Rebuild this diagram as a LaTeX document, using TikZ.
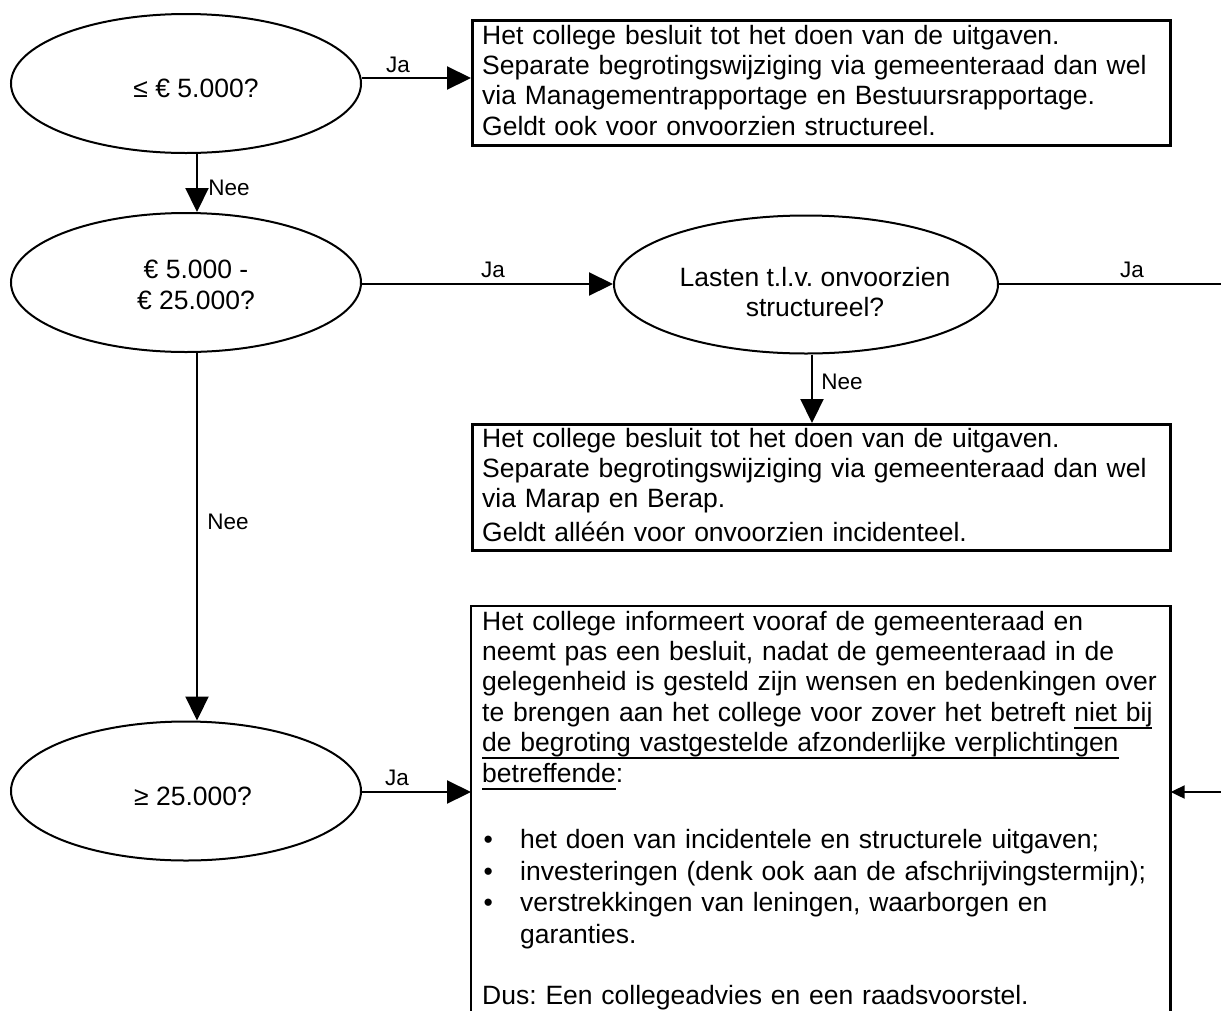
\documentclass[tikz,border=0pt]{standalone}
\usepackage{fontspec}
\setmainfont{Liberation Sans}
\usetikzlibrary{arrows.meta,shapes.geometric}
\frenchspacing
\newsavebox{\myulbox}
\newcommand{\myul}[1]{\leavevmode\sbox{\myulbox}{#1}\rlap{\rule[-7.5pt]{\wd\myulbox}{1.8pt}}\usebox{\myulbox}}
\newcommand{\mybullet}{\leavevmode\makebox[38pt][l]{\hspace{1.5pt}•}}
\begin{document}
\begin{tikzpicture}[x=1pt,y=-1pt,
  dec/.style={draw, ellipse, line width=2pt, inner sep=0pt, minimum width=350pt, minimum height=139pt},
  txt/.style={font=\fontsize{26.5pt}{30.4pt}\selectfont\frenchspacing, inner sep=0pt},
  lbl/.style={font=\fontsize{22.5pt}{26pt}\selectfont, inner sep=0pt},
  boxs/.style={draw, line width=2.7pt, inner sep=0pt, anchor=north west},
  para/.style={txt, anchor=north west, text width=700pt, align=left},
  arr/.style={line width=2.2pt, -{Triangle[length=24pt,width=23pt]}},
  arrs/.style={line width=2.2pt, -{Triangle[length=14pt,width=13pt]}},
  conn/.style={line width=2.2pt}
]
\useasboundingbox (0,0) rectangle (1221,1010);
\fill[white] (0,0) rectangle (1221,1010);

% decisions
\node[dec] (e1) at (186,83.5) {};
\node[dec] (e2) at (186,282.5) {};
\node[dec, minimum width=384pt, minimum height=138pt] (e3) at (806,284.5) {};
\node[dec] (e4) at (186,791) {};

\node[txt] (e1t) at (196,88) {≤ € 5.000?};
\node[txt, align=center] (e2t) at (196,285) {€ 5.000 -\\€ 25.000?};
\node[txt, align=center] (e3t) at (815,292) {Lasten t.l.v. onvoorzien\\structureel?};
\node[txt] (e4t) at (193,796) {≥ 25.000?};

% boxes
\node[boxs, minimum width=698pt, minimum height=125pt] (box1) at (471,19) {};
\node[boxs, minimum width=698pt, minimum height=126pt] (box2) at (471,423) {};
\node[boxs, draw=none, minimum width=697pt, minimum height=404pt] (box4) at (471,606) {};
\draw[line width=2.7pt] (box4.south west) -- (box4.north west) -- (box4.north east) -- (box4.south east);

\node[para] (b1t) at (482,22.7) {\strut Het college besluit tot het doen van de uitgaven.\\
Separate begrotingswijziging via gemeenteraad dan wel\\
via Managementrapportage en Bestuursrapportage.\\
Geldt ook voor onvoorzien structureel.};

\node[para] (b2t) at (482,425.7) {\strut Het college besluit tot het doen van de uitgaven.\\
Separate begrotingswijziging via gemeenteraad dan wel\\
via Marap en Berap.\\[3pt]
Geldt alléén voor onvoorzien incidenteel.};

\node[para] (b4t) at (482,608.7) {\strut Het college informeert vooraf de gemeenteraad en\\
neemt pas een besluit, nadat de gemeenteraad in de\\
gelegenheid is gesteld zijn wensen en bedenkingen over\\
te brengen aan het college voor zover het betreft \myul{niet bij}\\
\myul{de begroting vastgestelde afzonderlijke verplichtingen}\\
\myul{betreffende}:\\[36.4pt]
\mybullet het doen van incidentele en structurele uitgaven;\\[1pt]
\mybullet investeringen (denk ook aan de afschrijvingstermijn);\\[1pt]
\mybullet verstrekkingen van leningen, waarborgen en\\[1pt]
\hspace*{38pt}garanties.\\[31pt]
Dus: Een collegeadvies en een raadsvoorstel.};

% labels
\node[lbl] (ja1) at (398,65) {Ja};
\node[lbl] (nee1) at (229,188) {Nee};
\node[lbl] (ja2) at (493,270) {Ja};
\node[lbl] (ja3) at (1132,270) {Ja};
\node[lbl] (nee3) at (842,382) {Nee};
\node[lbl] (nee2) at (228,522) {Nee};
\node[lbl] (ja4) at (397,778) {Ja};

% connectors
\coordinate (r1) at (1221,284);
\coordinate (r2) at (1221,792);
\draw[arr] (e1.east |- 0,78) -- (box1.west |- 0,78);
\draw[arr] (e1.south -| 197,0) -- (e2.north -| 197,0);
\draw[arr] (e2.east |- 0,284) -- (e3.west |- 0,284);
\draw[conn] (e3.east |- 0,284) -- (r1);
\draw[arr] (e3.south -| 812,0) -- (box2.north -| 812,0);
\draw[arr] (e2.south -| 197,0) -- (e4.north -| 197,0);
\draw[arr] (e4.east |- 0,792) -- (box4.west |- 0,792);
\draw[arrs] (r2) -- (box4.east |- 0,792);
\end{tikzpicture}
\end{document}
